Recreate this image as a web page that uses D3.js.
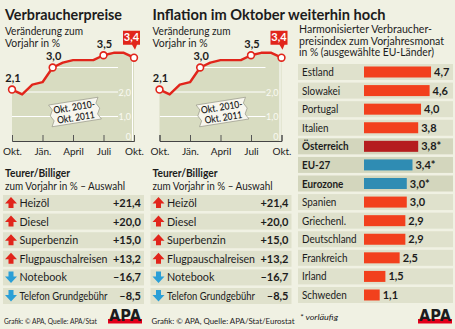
<!DOCTYPE html>
<html><head><meta charset="utf-8">
<script src="https://cdn.jsdelivr.net/npm/d3@7"></script>
<style>body{margin:0;background:#f0f1e3} svg{display:block} text{font-family:Lato,"Open Sans",sans-serif;fill:#1c1c1c}</style>
</head><body><svg id="c" width="455" height="329"></svg>
<script>
// ---------- data ----------
const months = ["Okt.","Nov.","Dez.","Jän.","Feb.","März","April","Mai","Juni","Juli","Aug.","Sep.","Okt."];
const inflation = [2.1,1.9,2.3,2.4,3.0,3.2,3.3,3.3,3.3,3.5,3.6,3.6,3.4];
const labelledPoints = [0,4,9];
const highlightIndex = 12;
const axisTickIndex = [0,3,6,9,12];
const axisTickLabels = ["Okt.","Jän.","April","Juli","Okt."];
const yGridValues = [0,1,2];
const yGridLabels = ["0","1,0","2,0"];

const priceItems = ["Heizöl","Diesel","Superbenzin","Flugpauschalreisen","Notebook","Telefon Grundgebühr"];
const priceChanges = [21.4,20.0,15.0,13.2,-16.7,-8.5];

const countries = ["Estland","Slowakei","Portugal","Italien","Österreich","EU-27","Eurozone","Spanien","Griechenl.","Deutschland","Frankreich","Irland","Schweden"];
const hicp = [4.7,4.6,4.0,3.8,3.8,3.4,3.0,3.0,2.9,2.9,2.5,1.5,1.1];
const provisional = [false,false,false,false,true,true,true,false,false,false,false,false,false];
const barType = ["eu","eu","eu","eu","at","agg","agg","eu","eu","eu","eu","eu","eu"];

// ---------- setup ----------
const C = {bg:"#f0f1e3", fill:"#d8dcc1", row:"#dfe1cc", rowDark:"#d3d6bd", red:"#e1251b",
           bar:"#f2401d", barAT:"#b51d1f", barAgg:"#2f8cb3", blue:"#2b9fd6"};
const loc = d3.formatLocale({decimal:",", thousands:".", grouping:[3], currency:["","€"], minus:"–"});
const f1 = loc.format(".1f"), fSigned = loc.format("+.1f");
const svg = d3.select("#c");
svg.append("rect").attr("width",455).attr("height",329).attr("fill",C.bg);

function txt(g, x, y, s, o={}) {
  const t = g.append("text").attr("x",x).attr("y",y).text(s)
    .attr("font-size", o.size||11).attr("font-weight", o.bold?700:400);
  if (o.anchor) t.attr("text-anchor", o.anchor);
  if (o.w) t.attr("textLength", o.w).attr("lengthAdjust","spacingAndGlyphs");
  if (o.fill) t.style("fill", o.fill);
  if (o.italic) t.attr("font-style","italic");
  return t;
}
function condense(sel, k) {
  sel.each(function(){ const w = this.getComputedTextLength();
    d3.select(this).attr("textLength", w*k).attr("lengthAdjust","spacingAndGlyphs"); });
}
function fitTo(sel, maxW) {
  sel.each(function(){ const w = this.getComputedTextLength();
    if (w > maxW) d3.select(this).attr("textLength", maxW).attr("lengthAdjust","spacingAndGlyphs"); });
}

function apaLogo(g, x, y) {
  const l = g.append("g").attr("transform",`translate(${x},${y})`);
  l.append("rect").attr("x",0).attr("y",11).attr("width",34).attr("height",4.5).attr("fill","#e2001a");
  txt(l, 17, 13, "APA", {size:15, bold:true, anchor:"middle", w:32}).attr("font-weight",900)
    .style("font-family","'DejaVu Sans',sans-serif");
}

function linePanel(ox, idx, title, titleW, source, sourceW, logo) {
  const g = svg.append("g").attr("transform",`translate(${ox},0)`);
  txt(g, 5, 20, title, {size:16, bold:true, w:titleW});
  txt(g, 5, 35, "Veränderung zum", {size:11, w:78});
  txt(g, 5, 46.5, "Vorjahr in %", {size:11, w:55});

  const x = d3.scaleLinear().domain([0, months.length-1]).range([12,134]);
  const y = d3.scaleLinear().domain([0,4]).range([141,43]);

  const area = d3.area().x((d,i)=>x(i)).y0(y(0)).y1(d=>y(d));
  const line = d3.line().x((d,i)=>x(i)).y(d=>y(d));
  const clipId = "clip"+idx;
  g.append("clipPath").attr("id",clipId).append("path").attr("d",area(inflation));
  g.append("path").attr("d",area(inflation)).attr("fill",C.fill);
  const grid = g.append("g").attr("clip-path",`url(#${clipId})`);
  grid.selectAll("line.h").data([1,2,3]).join("line")
    .attr("x1",x(0)).attr("x2",x(months.length-1)-16)
    .attr("y1",d=>y(d)).attr("y2",d=>y(d)).attr("stroke","#fff").attr("stroke-width",1);
  grid.append("line").attr("x1",x(highlightIndex)-1.5).attr("x2",x(highlightIndex)-1.5)
    .attr("y1",y(0)).attr("y2",y(4)).attr("stroke","#fff").attr("stroke-width",1);
  g.selectAll("text.yl").data(yGridValues).join("text")
    .attr("x",x(months.length-1)-3).attr("y",d=>y(d)+ (d===0?-1:3.5))
    .attr("text-anchor","end").attr("font-size",9).style("fill","#fafaf2").text((d,i)=>yGridLabels[i]);

  // axis
  const minor = d3.axisBottom(x).tickValues(d3.range(months.length)).tickSize(-4).tickFormat("");
  const major = d3.axisBottom(x).tickValues(axisTickIndex).tickSize(-6).tickPadding(7)
      .tickFormat((d,i)=>axisTickLabels[i]);
  const ag = g.append("g").attr("transform",`translate(0,${y(0)})`);
  ag.call(minor); ag.call(major);
  ag.selectAll("path.domain").attr("stroke","#444").attr("stroke-width",1);
  ag.selectAll(".tick line").attr("stroke","#555");
  ag.selectAll("text").attr("font-size",10).style("font-family","Lato,sans-serif").style("fill","#1c1c1c");

  // line + points
  g.append("path").attr("d",line(inflation)).attr("fill","none").attr("stroke",C.red)
    .attr("stroke-width",2.4).attr("stroke-linejoin","round");
  g.selectAll("circle.pt").data([...labelledPoints, highlightIndex]).join("circle")
    .attr("cx",i=>x(i)).attr("cy",i=>y(inflation[i])).attr("r",3.4)
    .attr("fill","#fff").attr("stroke",C.red).attr("stroke-width",1.6);
  g.selectAll("text.pl").data(labelledPoints).join("text")
    .attr("x",i=>x(i)+1).attr("y",i=>y(inflation[i])-7.5).attr("text-anchor","middle")
    .attr("font-size",11).attr("font-weight",700).text(i=>f1(inflation[i]));

  // highlight badge
  const hx = x(highlightIndex), hy = y(inflation[highlightIndex]);
  const b = g.append("g").attr("transform",`translate(${hx},${hy})`);
  b.append("path").attr("d","M-11,-27H6V-13H3L1,-8L-2,-13H-11Z").attr("fill",C.red);
  txt(b, -2.5, -16.5, f1(inflation[highlightIndex]), {size:11, bold:true, anchor:"middle", fill:"#fff"});

  // ticket
  const t = g.append("g").attr("transform","translate(75,112) rotate(-9)");
  let p = "M-25,-11H25";
  for (let k=0;k<4;k++){ p += `L${k%2?25:22},${-11+(k+1)*5.5}`; }
  p += "H-25";
  for (let k=0;k<4;k++){ p += `L${k%2?-25:-22},${11-(k+1)*5.5}`; }
  p += "Z";
  t.append("path").attr("d",p).attr("fill","#f7f6ee").attr("stroke","#9a9a8c").attr("stroke-width",0.7);
  txt(t, 0, -1.5, "Okt. 2010-", {size:10, bold:true, anchor:"middle", w:42}).attr("font-weight",600);
  txt(t, 0, 9, "Okt. 2011", {size:10, bold:true, anchor:"middle", w:38}).attr("font-weight",600);

  // table
  txt(g, 5, 177, "Teurer/Billiger", {size:11, bold:true, w:65});
  txt(g, 5, 189.5, "zum Vorjahr in % – Auswahl", {size:10.5, w:120});
  const ry = d3.scalePoint().domain(priceItems).range([203,296]);
  const rows = g.selectAll("g.row").data(priceItems).join("g")
    .attr("transform",d=>`translate(0,${ry(d)})`);
  rows.append("rect").attr("x",3).attr("y",-8).attr("width",141).attr("height",16).attr("fill",C.row);
  rows.append("path").attr("d",(d,i)=> priceChanges[i]>=0
      ? "M5,0.5L11,-6L17,0.5H13.5V5H8.5V0.5Z"
      : "M5,-1L11,5.5L17,-1H13.5V-6H8.5V-1Z")
    .attr("fill",(d,i)=>priceChanges[i]>=0?C.red:C.blue);
  rows.append("text").attr("x",19.5).attr("y",4).attr("font-size",10.8).text(d=>d)
    .call(fitTo, 88);
  rows.append("text").attr("x",141).attr("y",4).attr("text-anchor","end").attr("font-size",11)
    .attr("font-weight",700).text((d,i)=>fSigned(priceChanges[i]));

  txt(g, 4, 324, source, {size:7.5, w:sourceW});
  if (logo) apaLogo(g, 108, 308);
}

linePanel(0, 0, "Verbraucherpreise", 117, "Grafik: © APA, Quelle: APA/Stat", 93, true);
linePanel(147.5, 1, "Inflation im Oktober weiterhin hoch", 233, "Grafik: © APA, Quelle: APA/Stat/Eurostat", 143, false);

// ---------- right panel ----------
const rg = svg.append("g");
txt(rg, 299, 33, "Harmonisierter Verbraucher-", {size:11, w:133});
txt(rg, 299, 44.5, "preisindex zum Vorjahresmonat", {size:11, w:145});
txt(rg, 299, 56, "in % (ausgewählte EU-Länder)", {size:11, w:135});
const cy = d3.scalePoint().domain(countries).range([72,295]);
const bx = d3.scaleLinear().domain([0,5]).range([364,435.3]);
const crow = rg.selectAll("g.c").data(countries).join("g").attr("transform",d=>`translate(0,${cy(d)})`);
crow.append("rect").attr("x",298).attr("y",-8).attr("width",155).attr("height",16)
  .attr("fill",(d,i)=>barType[i]==="eu"?C.row:C.rowDark);
crow.append("text").attr("x",302).attr("y",4).attr("font-size",11)
  .attr("font-weight",(d,i)=>barType[i]==="eu"?400:700).text(d=>d)
  .call(condense, 0.9);
crow.append("rect").attr("x",bx(0)).attr("y",-5.5).attr("height",11)
  .attr("width",(d,i)=>bx(hicp[i])-bx(0))
  .attr("fill",(d,i)=>barType[i]==="at"?C.barAT:barType[i]==="agg"?C.barAgg:C.bar);
crow.append("text").attr("x",(d,i)=>bx(hicp[i])+3).attr("y",4).attr("font-size",11).attr("font-weight",700)
  .text((d,i)=>f1(hicp[i])+(provisional[i]?"*":""));
txt(rg, 300, 320, "* vorläufig", {size:8.5, italic:true, w:38});
apaLogo(rg, 418, 308);
</script></body></html>
